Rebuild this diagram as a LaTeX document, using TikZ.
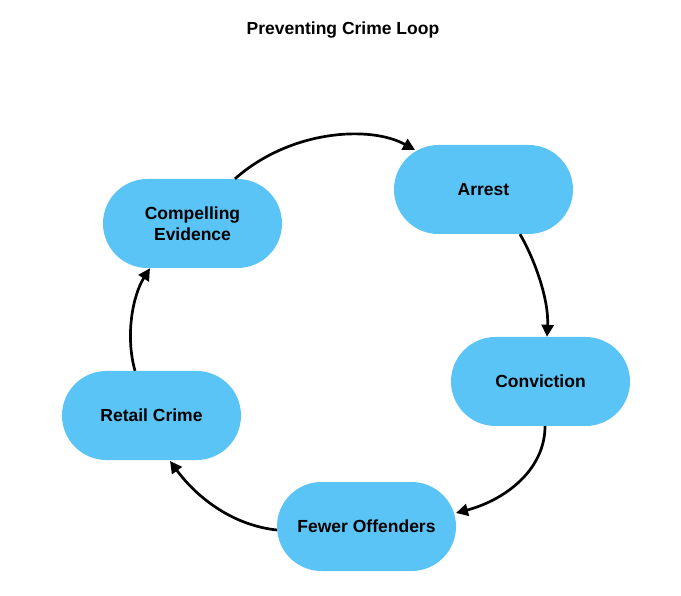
\documentclass[tikz,border=0pt]{standalone}
\usepackage{fontspec}
\setmainfont{Liberation Sans}
\usetikzlibrary{arrows.meta}
\definecolor{boxblue}{RGB}{91,196,247}
\tikzset{
  stadium/.style={fill=boxblue, draw=none, rounded corners=44.5pt, minimum width=179pt, minimum height=89pt, inner sep=0pt, align=center, font=\fontsize{17.5}{21}\selectfont\bfseries},
  loop/.style={line width=2.7pt, -{Triangle[length=12pt,width=12pt]}}
}
\begin{document}
\begin{tikzpicture}[x=1pt,y=-1pt]
\useasboundingbox (0,0) rectangle (681,596);
\node[font=\fontsize{17.5}{20}\selectfont\bfseries] (title) at (343,30) {Preventing Crime Loop};
\node[stadium] (ev) at (192.5,223.5) {Compelling\\Evidence};
\node[stadium] (ar) at (483.5,189.5) {Arrest};
\node[stadium] (co) at (540.5,381.5) {Conviction};
\node[stadium] (fo) at (366.5,526.5) {Fewer Offenders};
\node[stadium] (rc) at (151.5,415.5) {Retail Crime};
\draw[loop] ([xshift=42.5pt]ev.north) .. controls (290,130) and (370,125) .. ([shift={(-68.5pt,39.5pt)}]ar.center);
\draw[loop] ([xshift=36.5pt]ar.south) .. controls (535,260) and (549,300) .. ([xshift=6.5pt]co.north);
\draw[loop] ([xshift=4.5pt]co.south) .. controls (545,470) and (505,500) .. ([shift={(89.5pt,13.5pt)}]fo.center);
\draw[loop] ([shift={(-89.5pt,-3.5pt)}]fo.center) .. controls (230,525) and (195,495) .. ([shift={(18.5pt,-45.5pt)}]rc.center);
\draw[loop] ([xshift=-16.5pt]rc.north) .. controls (125,335) and (133,295) .. ([xshift=-42.5pt]ev.south);
\end{tikzpicture}
\end{document}
